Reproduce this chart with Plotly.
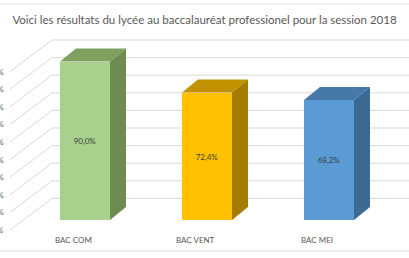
import plotly.graph_objects as go

# ---- data ----
categories = ["BAC COM", "BAC VENT", "BAC MEI"]
values = [90.0, 72.4, 68.2]
value_labels = ["90,0%", "72,4%", "68,2%"]
tick_values = [0, 10, 20, 30, 40, 50, 60, 70, 80, 90]
tick_labels = ["0%", "10%", "20%", "30%", "40%", "50%", "60%", "70%", "80%", "90%"]

front_colors = ["#A9D18E", "#FFC000", "#5B9BD5"]
top_colors = ["#7FA05F", "#C29200", "#4679A8"]
side_colors = ["#6E8C52", "#A67C00", "#3D6A95"]

# ---- geometry (axis units) ----
px_x = 122.0          # pixels per category
px_y = 1.76           # pixels per percent
x0_px, y0_px = 85.0, 220.0
W, H = 409, 258
xr = [-x0_px / px_x, (W - x0_px) / px_x]
yr = [(y0_px - H) / px_y, y0_px / px_y]

bar_w = 50.0 / px_x
ddx = 16.0 / px_x
ddy = 13.0 / px_y

grid_fx = (10 - x0_px) / px_x
grid_fy = -10.0 / px_y
grid_bx = (52 - x0_px) / px_x
grid_by = 21.6 / px_y

fig = go.Figure()

# 3D-like gridlines (wall), drawn below all traces
shapes = []
for t in tick_values:
    shapes.append(dict(type="line", xref="x", yref="y", layer="below",
                       x0=grid_fx, y0=t + grid_fy, x1=grid_bx, y1=t + grid_by,
                       line=dict(color="#D9D9D9", width=1)))
    shapes.append(dict(type="line", xref="x", yref="y", layer="below",
                       x0=grid_bx, y0=t + grid_by, x1=xr[1], y1=t + grid_by,
                       line=dict(color="#D9D9D9", width=1)))

# top and side faces
for i, v in enumerate(values):
    l, r = i - bar_w / 2, i + bar_w / 2
    fig.add_trace(go.Scatter(
        x=[l, l + ddx, r + ddx, r, l],
        y=[v, v + ddy, v + ddy, v, v],
        fill="toself", fillcolor=top_colors[i], mode="lines",
        line=dict(width=0, color=top_colors[i]),
        hoverinfo="skip", showlegend=False))
    fig.add_trace(go.Scatter(
        x=[r, r + ddx, r + ddx, r, r],
        y=[v, v + ddy, ddy, 0, v],
        fill="toself", fillcolor=side_colors[i], mode="lines",
        line=dict(width=0, color=side_colors[i]),
        hoverinfo="skip", showlegend=False))

# front faces
fig.add_trace(go.Bar(
    x=list(range(len(categories))), y=values, width=bar_w,
    marker=dict(color=front_colors, line=dict(width=0)),
    text=value_labels, textposition="inside", insidetextanchor="middle",
    textangle=0,
    textfont=dict(family="Lato, Roboto, sans-serif", size=8, color="#404040"),
    hoverinfo="skip", showlegend=False))

# category labels
for i, c in enumerate(categories):
    fig.add_annotation(x=i, y=-11.4, text=c, showarrow=False, xshift=-12,
                       font=dict(family="Lato, Roboto, sans-serif", size=8, color="#595959"))

# y tick labels (cut off at the left edge, as in the reference)
for t, lab in zip(tick_values, tick_labels):
    fig.add_annotation(x=grid_fx, y=t + grid_fy, text=lab, showarrow=False,
                       xanchor="right", xshift=-4,
                       font=dict(family="Lato, Roboto, sans-serif", size=8, color="#595959"))

shapes += [
    dict(type="line", xref="paper", yref="paper", x0=0, x1=1, y0=1 - 4 / H, y1=1 - 4 / H,
         layer="below", line=dict(color="#E0E0E0", width=1)),
    dict(type="line", xref="paper", yref="paper", x0=0, x1=1, y0=1 - 251 / H, y1=1 - 251 / H,
         layer="below", line=dict(color="#E0E0E0", width=1)),
]

fig.update_layout(
    width=W, height=H,
    margin=dict(l=0, r=0, t=0, b=0),
    paper_bgcolor="white", plot_bgcolor="white",
    title=dict(text="Voici les résultats du lycée au baccalauréat professionel pour la session 2018",
               x=0.5, xanchor="center", y=1 - 20 / H, yanchor="middle",
               font=dict(family="Lato, Roboto, sans-serif", size=11.5, color="#595959")),
    xaxis=dict(range=xr, visible=False, fixedrange=True),
    yaxis=dict(range=yr, visible=False, fixedrange=True),
    bargap=0,
    shapes=shapes,
)

fig.write_html("out.html")
